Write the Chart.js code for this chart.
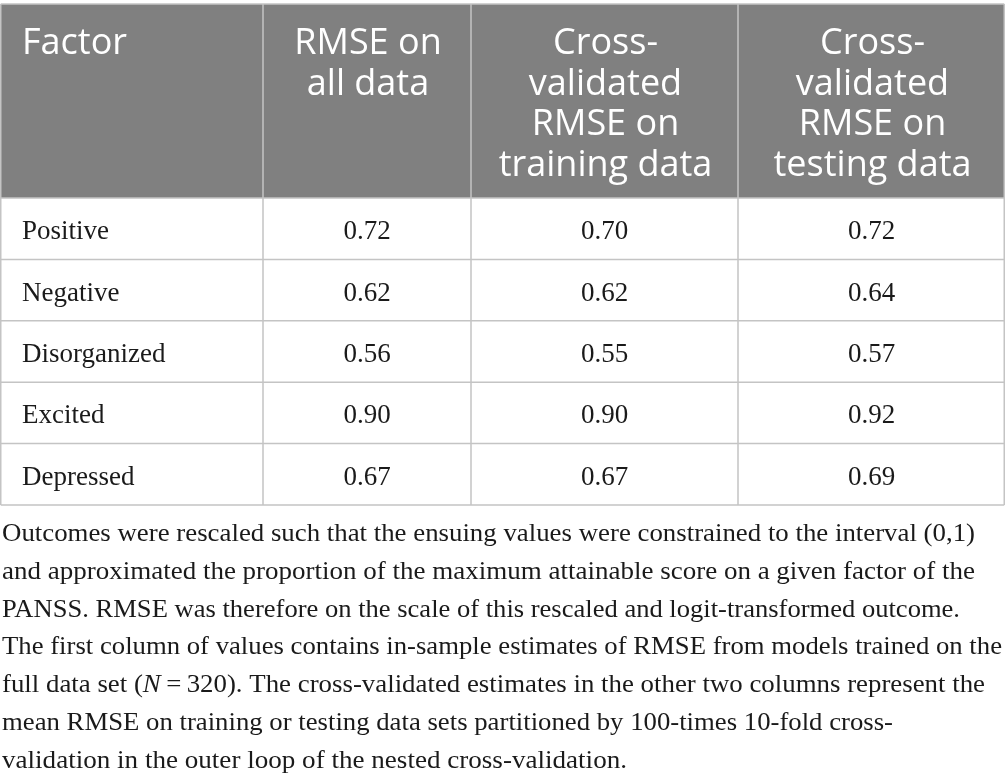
<!DOCTYPE html>
<html><head><meta charset="utf-8">
<script src="https://cdn.jsdelivr.net/npm/chart.js@4.4.1/dist/chart.umd.min.js"></script>
<style>html,body{margin:0;padding:0;background:#fff}canvas{display:block}</style>
</head><body>
<canvas id="c" width="1005" height="782" style="width:1005px;height:782px"></canvas>
<script>
// ---- data ----
const factors = ['Positive', 'Negative', 'Disorganized', 'Excited', 'Depressed'];
const columnHeaders = [
  ['Factor'],
  ['RMSE on', 'all data'],
  ['Cross-', 'validated', 'RMSE on', 'training data'],
  ['Cross-', 'validated', 'RMSE on', 'testing data']
];
const rmseAllData = [0.72, 0.62, 0.56, 0.90, 0.67];
const rmseCvTraining = [0.70, 0.62, 0.55, 0.90, 0.67];
const rmseCvTesting = [0.72, 0.64, 0.57, 0.92, 0.69];
// *...* marks italic text
const footnoteLines = [
  'Outcomes were rescaled such that the ensuing values were constrained to the interval (0,1)',
  'and approximated the proportion of the maximum attainable score on a given factor of the',
  'PANSS. RMSE was therefore on the scale of this rescaled and logit-transformed outcome.',
  'The first column of values contains in-sample estimates of RMSE from models trained on the',
  'full data set (*N*\u2009=\u2009320). The cross-validated estimates in the other two columns represent the',
  'mean RMSE on training or testing data sets partitioned by 100-times 10-fold cross-',
  'validation in the outer loop of the nested cross-validation.'
];

// ---- layout ----
const colEdges = [0, 263, 471, 738, 1005];
const footRight = [975, 975, 960, 1002, 985, 893, 627];
const HEADER_TOP = 4;
const HEADER_H = 194;
const GRID = '#c4c4c4';
const HEAD_BG = '#808080';
const TEXT = '#1a1a1a';
const SERIF = '"Liberation Serif", "DejaVu Serif", serif';
const SANS = '"Open Sans", "Noto Sans", sans-serif';

const columnValues = [null, rmseAllData, rmseCvTraining, rmseCvTesting];

const datasets = columnValues.map((vals, c) => ({
  label: columnHeaders[c].join(' '),
  data: factors.map(() => [colEdges[c], colEdges[c + 1]]),
  values: vals,
  backgroundColor: '#ffffff',
  borderWidth: 0,
  barPercentage: 1,
  categoryPercentage: 1,
  grouped: false
}));

function segments(line) {
  return line.split('*').map((t, i) => ({ text: t, italic: i % 2 === 1 })).filter(s => s.text.length);
}

const tablePlugin = {
  id: 'tablePlugin',
  beforeDatasetsDraw(chart) {
    const ctx = chart.ctx, x = chart.scales.x, area = chart.chartArea;
    ctx.save();
    const top = area.top - HEADER_H;
    ctx.fillStyle = HEAD_BG;
    ctx.fillRect(x.getPixelForValue(colEdges[0]), top, x.getPixelForValue(colEdges[colEdges.length - 1]) - x.getPixelForValue(colEdges[0]), HEADER_H);
    ctx.fillStyle = '#ffffff';
    ctx.font = '36px ' + SANS;
    ctx.textBaseline = 'alphabetic';
    columnHeaders.forEach((lines, c) => {
      const x0 = x.getPixelForValue(colEdges[c]), x1 = x.getPixelForValue(colEdges[c + 1]);
      lines.forEach((ln, i) => {
        const by = top + 50 + i * 40.5;
        if (c === 0) { ctx.textAlign = 'left'; ctx.fillText(ln, x0 + 22, by); }
        else { ctx.textAlign = 'center'; ctx.fillText(ln, (x0 + x1) / 2 + 1, by); }
      });
    });
    ctx.restore();
  },
  afterDatasetsDraw(chart) {
    const ctx = chart.ctx, x = chart.scales.x, y = chart.scales.y, area = chart.chartArea;
    ctx.save();
    ctx.fillStyle = TEXT;
    ctx.font = '27px ' + SERIF;
    ctx.textBaseline = 'alphabetic';
    chart.data.datasets.forEach((ds, c) => {
      const meta = chart.getDatasetMeta(c);
      meta.data.forEach((el, r) => {
        const cy = el.y + 10.5;
        if (c === 0) {
          ctx.textAlign = 'left';
          ctx.fillText(y.getLabelForValue(r), Math.min(el.x, el.base) + 22, cy);
        } else {
          ctx.textAlign = 'center';
          ctx.fillText(ds.values[r].toFixed(2), (el.x + el.base) / 2, cy);
        }
      });
    });
    // grid
    ctx.strokeStyle = GRID;
    ctx.lineWidth = 1.5;
    const n = factors.length;
    const rowH = (area.bottom - area.top) / n;
    const left = x.getPixelForValue(colEdges[0]) + 0.75;
    const right = x.getPixelForValue(colEdges[colEdges.length - 1]) - 0.75;
    const top = area.top - HEADER_H;
    ctx.beginPath();
    ctx.moveTo(left, top); ctx.lineTo(right, top);
    for (let i = 0; i <= n; i++) {
      const yy = area.top + i * rowH;
      ctx.moveTo(left, yy); ctx.lineTo(right, yy);
    }
    colEdges.forEach((e, i) => {
      let xx = x.getPixelForValue(e);
      if (i === 0) xx = left; else if (i === colEdges.length - 1) xx = right;
      ctx.moveTo(xx, top); ctx.lineTo(xx, area.bottom);
    });
    ctx.stroke();
    ctx.restore();
  },
  afterDraw(chart) {
    const ctx = chart.ctx, area = chart.chartArea;
    ctx.save();
    ctx.fillStyle = TEXT;
    ctx.textAlign = 'left';
    ctx.textBaseline = 'alphabetic';
    const fontFor = (it) => (it ? 'italic ' : '') + '26px ' + SERIF;
    footnoteLines.forEach((ln, i) => {
      const by = area.bottom + 36 + i * 37.8;
      const segs = segments(ln);
      let w = 0;
      segs.forEach(s => { ctx.font = fontFor(s.italic); s.w = ctx.measureText(s.text).width; w += s.w; });
      const s = (footRight[i] - 2) / w;
      ctx.save();
      ctx.translate(2, by);
      ctx.scale(s, 1);
      let cx = 0;
      segs.forEach(sg => { ctx.font = fontFor(sg.italic); ctx.fillText(sg.text, cx, 0); cx += sg.w; });
      ctx.restore();
    });
    ctx.restore();
  }
};

new Chart(document.getElementById('c'), {
  type: 'bar',
  data: { labels: factors, datasets },
  options: {
    indexAxis: 'y',
    responsive: false,
    animation: false,
    devicePixelRatio: 1,
    layout: { padding: { top: HEADER_TOP + HEADER_H, bottom: 277, left: 0, right: 0 } },
    plugins: { legend: { display: false }, tooltip: { enabled: false }, title: { display: false } },
    scales: {
      x: { type: 'linear', min: colEdges[0], max: colEdges[colEdges.length - 1], display: false },
      y: { type: 'category', display: false }
    }
  },
  plugins: [tablePlugin]
});
</script>
</body></html>
